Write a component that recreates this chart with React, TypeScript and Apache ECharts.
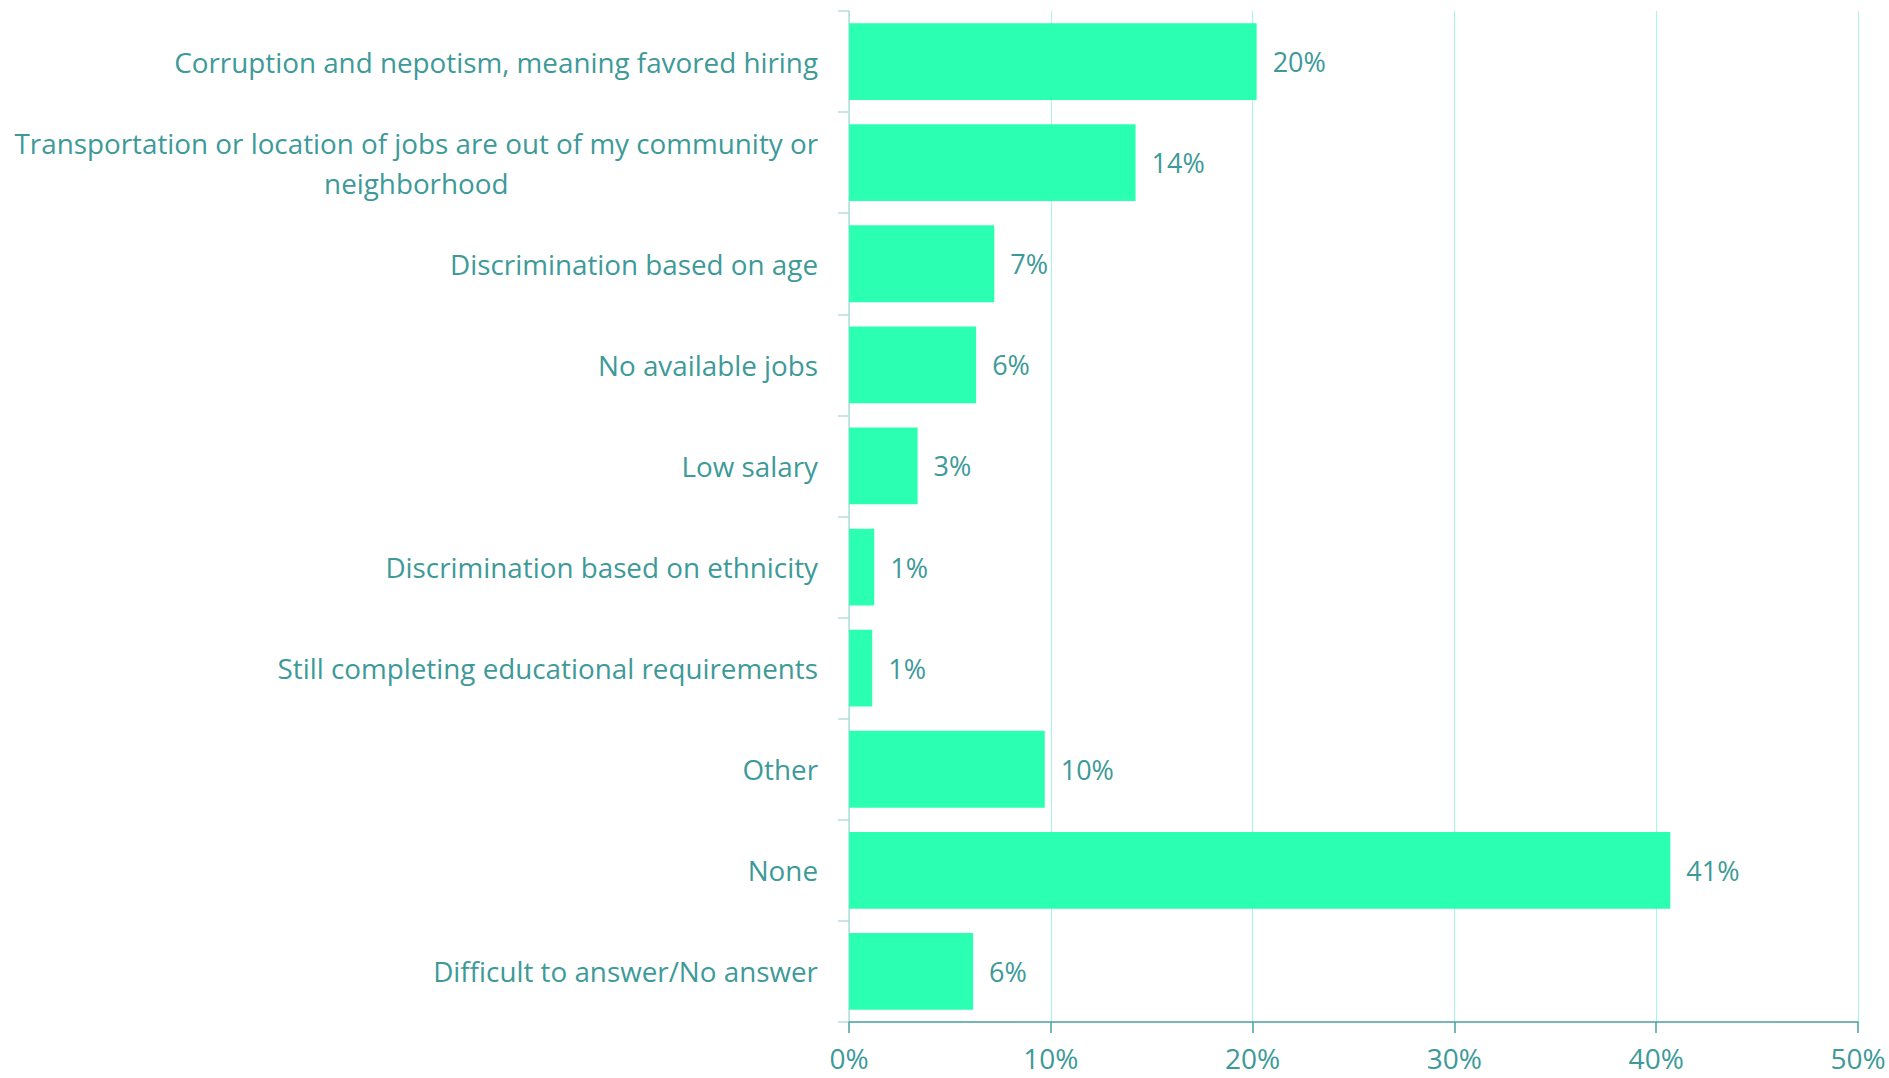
import React, { useEffect, useRef } from "react";
import * as echarts from "echarts";

const categories = [
  "Corruption and nepotism, meaning favored hiring",
  "Transportation or location of jobs are out of my community or\nneighborhood",
  "Discrimination based on age",
  "No available jobs",
  "Low salary",
  "Discrimination based on ethnicity",
  "Still completing educational requirements",
  "Other",
  "None",
  "Difficult to answer/No answer",
];
const values = [20.2, 14.2, 7.2, 6.3, 3.4, 1.25, 1.15, 9.7, 40.7, 6.15];
const xTicks = [0, 10, 20, 30, 40, 50];

const TEXT = "#3d9a98";
const FONT = "Open Sans";
const CAT_SIZE = 27.8;

export default function App() {
  const ref = useRef<HTMLDivElement>(null);
  useEffect(() => {
    document.body.style.margin = "0";
    const chart = echarts.init(ref.current!, null, { renderer: "svg" });
    chart.setOption({
      animation: false,
      grid: { left: 849, right: 31, top: 11, bottom: 56, containLabel: false },
      xAxis: {
        type: "value",
        min: xTicks[0],
        max: xTicks[xTicks.length - 1],
        interval: 10,
        axisLine: { show: true, lineStyle: { color: "#4a9f9f", width: 1.5 } },
        axisTick: { show: true, length: 11, lineStyle: { color: "#4a9f9f", width: 1.5 } },
        splitLine: { show: true, lineStyle: { color: "#a6f7e0", width: 1 } },
        axisLabel: {
          formatter: (v: number) => v + "%",
          color: TEXT,
          fontFamily: FONT,
          fontSize: 28,
          lineHeight: 32,
          margin: 20,
        },
      },
      yAxis: {
        type: "category",
        data: categories,
        inverse: true,
        axisLine: { show: true, lineStyle: { color: "#b7dcdc", width: 1.5 } },
        axisTick: { show: true, length: 11, lineStyle: { color: "#b7dcdc", width: 1.5 } },
        axisLabel: {
          color: TEXT,
          fontFamily: FONT,
          fontSize: CAT_SIZE,
          margin: 31,
          lineHeight: 40,
          align: "right",
          formatter: (v: string) =>
            v.indexOf("\n") >= 0
              ? v.split("\n").map((s) => "{c|" + s + "}").join("\n")
              : v,
          rich: {
            c: {
              align: "center",
              color: TEXT,
              fontFamily: FONT,
              fontSize: CAT_SIZE,
              lineHeight: 40,
            },
          },
        },
      },
      series: [
        {
          type: "bar",
          data: values,
          barCategoryGap: "24%",
          itemStyle: { color: "#2bffb2" },
          label: {
            show: true,
            position: "right",
            distance: 16,
            color: TEXT,
            fontFamily: FONT,
            fontSize: 27,
            formatter: (p: any) => Math.round(p.value) + "%",
          },
        },
      ],
    });
    return () => chart.dispose();
  }, []);
  return <div ref={ref} style={{ width: 1889, height: 1078 }} />;
}
